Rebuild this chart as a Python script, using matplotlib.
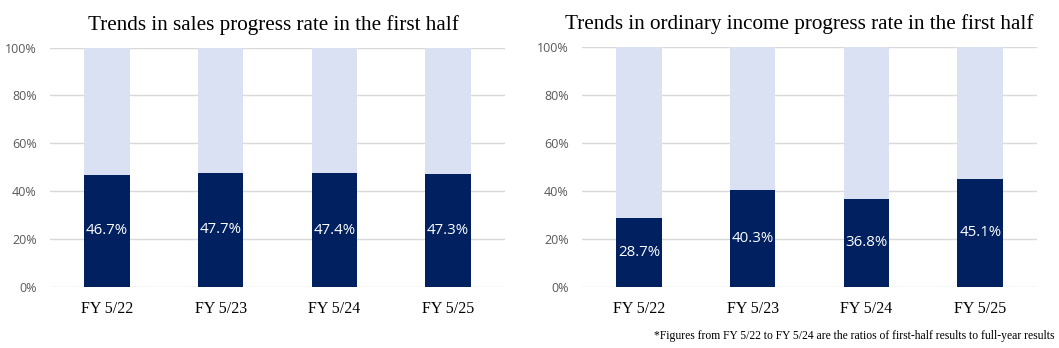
import matplotlib
matplotlib.use("Agg")
import matplotlib.pyplot as plt
from matplotlib.ticker import FixedLocator, PercentFormatter

categories = ["FY 5/22", "FY 5/23", "FY 5/24", "FY 5/25"]
sales_rate = [46.7, 47.7, 47.4, 47.3]
income_rate = [28.7, 40.3, 36.8, 45.1]
titles = [
    "Trends in sales progress rate in the first half",
    "Trends in ordinary income progress rate in the first half",
]
footnote = "*Figures from FY 5/22 to FY 5/24 are the ratios of first-half results to full-year results"

DARK = "#002060"
LIGHT = "#D9E1F2"
GRID = "#D9D9D9"
SERIF = "Liberation Serif"
SANS = "Open Sans"

fig = plt.figure(figsize=(10.59, 3.48), dpi=100)
axes_rects = [
    [0.0472, 0.176, 0.4297, 0.687],
    [0.5496, 0.175, 0.4297, 0.691],
]
title_x = [0.492, 0.477]

for rect, values, title, tx in zip(axes_rects, [sales_rate, income_rate], titles, title_x):
    ax = fig.add_axes(rect)
    x = list(range(len(categories)))
    rest = [100 - v for v in values]
    ax.bar(x, values, width=0.4, color=DARK, zorder=3)
    ax.bar(x, rest, bottom=values, width=0.4, color=LIGHT, zorder=3)
    for xi, v in zip(x, values):
        ax.text(xi, v / 2, f"{v:.1f}%", ha="center", va="center",
                color="white", fontsize=10.8, family=SANS, zorder=4)
    ax.set_xlim(-0.5, len(categories) - 0.5)
    ax.set_ylim(0, 100)
    ax.yaxis.set_major_locator(FixedLocator([0, 20, 40, 60, 80, 100]))
    ax.yaxis.set_major_formatter(PercentFormatter(decimals=0))
    ax.grid(axis="y", color=GRID, linewidth=1.0, zorder=0)
    ax.set_axisbelow(True)
    for s in ax.spines.values():
        s.set_visible(False)
    ax.tick_params(axis="both", length=0)
    ax.tick_params(axis="y", pad=9.5, labelcolor="#595959")
    ax.tick_params(axis="x", pad=10)
    ax.set_xticks(x)
    ax.set_xticklabels(categories, family=SERIF, fontsize=11.5, color="black")
    for lbl in ax.get_yticklabels():
        lbl.set_family(SANS)
        lbl.set_fontsize(9)
    t = ax.set_title(title, family=SERIF, fontsize=15.2, color="black", pad=13)
    t.set_x(tx)

fig.text(0.996, 0.035, footnote, ha="right", va="center",
         family=SERIF, fontsize=8.4, color="black")

fig.savefig("out.png", dpi=100, facecolor="white")
